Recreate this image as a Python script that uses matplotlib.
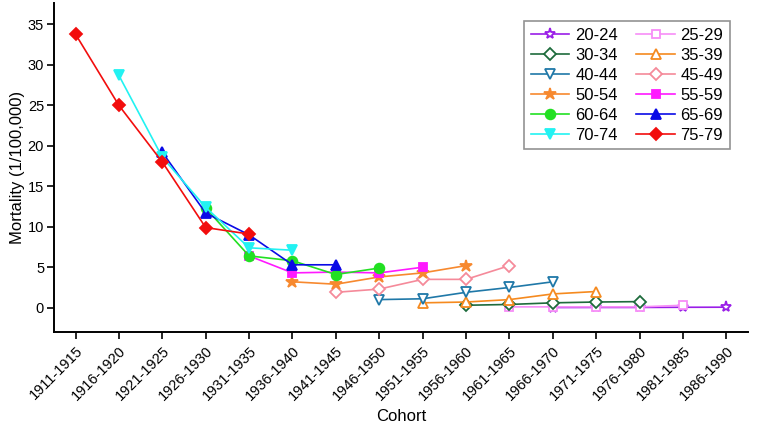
import numpy as np
import matplotlib.pyplot as plt

plt.rcParams['font.family'] = ['Liberation Sans', 'DejaVu Sans']

cohorts = ['1911-1915', '1916-1920', '1921-1925', '1926-1930', '1931-1935',
           '1936-1940', '1941-1945', '1946-1950', '1951-1955', '1956-1960',
           '1961-1965', '1966-1970', '1971-1975', '1976-1980', '1981-1985',
           '1986-1990']

# age groups and the first cohort each one appears in
ages = ['20-24', '25-29', '30-34', '35-39', '40-44', '45-49',
        '50-54', '55-59', '60-64', '65-69', '70-74', '75-79']
start = [11, 10, 9, 8, 7, 6, 5, 4, 3, 2, 1, 0]

m_20_24 = [0.02, 0.03, 0.03, 0.05, 0.06]
m_25_29 = [0.1, 0.1, 0.1, 0.1, 0.3]
m_30_34 = [0.3, 0.4, 0.6, 0.7, 0.75]
m_35_39 = [0.6, 0.7, 1.0, 1.7, 2.0]
m_40_44 = [1.0, 1.1, 1.9, 2.5, 3.2]
m_45_49 = [1.9, 2.3, 3.5, 3.5, 5.2]
m_50_54 = [3.2, 2.9, 3.8, 4.3, 5.2]
m_55_59 = [6.4, 4.3, 4.4, 4.3, 5.0]
m_60_64 = [12.3, 6.4, 5.8, 4.1, 4.9]
m_65_69 = [19.2, 11.7, 9.0, 5.3, 5.3]
m_70_74 = [28.7, 18.6, 12.4, 7.4, 7.1]
m_75_79 = [33.8, 25.0, 18.0, 9.9, 9.1]

values = [m_20_24, m_25_29, m_30_34, m_35_39, m_40_44, m_45_49,
          m_50_54, m_55_59, m_60_64, m_65_69, m_70_74, m_75_79]

colors = ['#9a1ee8', '#f78ef7', '#1e6b3c', '#f58a1f', '#1f78a8', '#f58a9a',
          '#f7892f', '#ff19ff', '#22e022', '#0a0ae6', '#22f2f2', '#f20d0d']
markers = ['*', 's', 'D', '^', 'v', 'D', '*', 's', 'o', '^', 'v', 'D']
hollow = [True, True, True, True, True, True,
          False, False, False, False, False, False]
msizes = [8, 6, 6, 7, 7, 6, 9, 6, 7, 7, 7, 6]

fig = plt.figure(figsize=(7.58, 4.30), dpi=100)
ax = fig.add_axes([0.071, 0.228, 0.916, 0.764])

x = np.arange(len(cohorts))
handles = []
for lab, s, v, c, mk, h, ms in zip(ages, start, values, colors, markers, hollow, msizes):
    ln, = ax.plot(x[s:s + len(v)], v, color=c, marker=mk, markersize=ms, lw=1.2,
                  markerfacecolor='white' if h else c, markeredgecolor=c,
                  markeredgewidth=1.3, label=lab)
    handles.append(ln)

ax.set_xlim(-0.5, 15.5)
ax.set_ylim(-3, 37.6)
ax.set_xticks(x)
ax.set_xticklabels(cohorts, rotation=45, ha='right', rotation_mode='anchor', fontsize=10.5)
ax.set_yticks(np.arange(0, 36, 5))
ax.tick_params(axis='y', labelsize=10.5, pad=2)
ax.tick_params(direction='out', length=5, width=1.2)
for sp in ['top', 'right']:
    ax.spines[sp].set_visible(False)
for sp in ['left', 'bottom']:
    ax.spines[sp].set_linewidth(1.4)

ax.set_xlabel('Cohort', fontsize=12, labelpad=4)
ax.set_ylabel('Mortality (1/100,000)', fontsize=12, labelpad=2)

# legend fills row by row in the original
order = handles[0::2] + handles[1::2]
leg = ax.legend(handles=order, ncol=2, loc='upper right', bbox_to_anchor=(0.974, 0.947),
                fontsize=12, frameon=True, fancybox=False, edgecolor='#777777',
                labelspacing=0.3, columnspacing=1.1, handlelength=2.3,
                handletextpad=0.35, borderpad=0.4, borderaxespad=0)
leg.get_frame().set_linewidth(1.2)

fig.savefig('out.png', dpi=100)
